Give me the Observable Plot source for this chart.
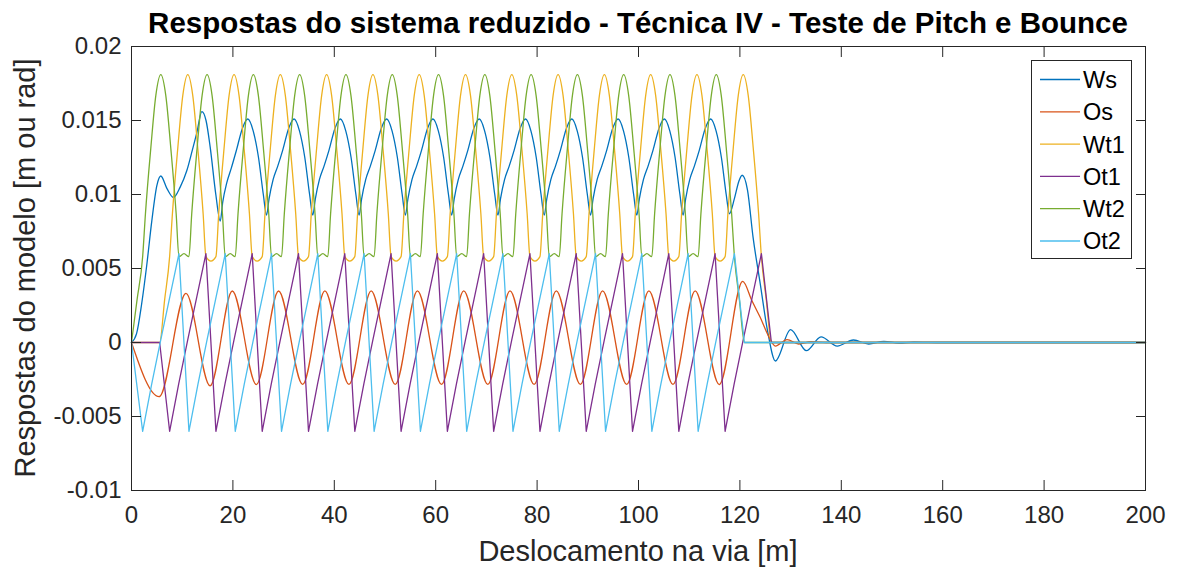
<!DOCTYPE html>
<html>
<head>
<meta charset="utf-8">
<script src="https://cdn.jsdelivr.net/npm/d3@7"></script>
<script src="https://cdn.jsdelivr.net/npm/@observablehq/plot@0.6"></script>
<style>
  html, body { margin: 0; padding: 0; background: #fff; }
  #fig { position: relative; width: 1177px; height: 569px; font-family: "Liberation Sans", Arial, sans-serif; }
  #fig svg.overlay { position: absolute; left: 0; top: 0; pointer-events: none; }
</style>
</head>
<body>
<div id="fig"></div>
<script>
// Series names and MATLAB default colours, in drawing order
const seriesNames = ["Ws", "Os", "Wt1", "Ot1", "Wt2", "Ot2"];
const seriesColors = ["#0072BD", "#D95319", "#EDB120", "#7E2F8E", "#77AC30", "#4DBEEE"];

const xTicks = [0, 20, 40, 60, 80, 100, 120, 140, 160, 180, 200];
const yTicks = [-0.01, -0.005, 0, 0.005, 0.01, 0.015, 0.02];
const yTickLabels = ["-0.01", "-0.005", "0", "0.005", "0.01", "0.015", "0.02"];

// Ws – body bounce [m]
const ws = [
  [0,0],[1.0,0.0006],[2.0,0.0026],[3.0,0.0052],[4.0,0.0082],[5.0,0.0106],[5.78,0.01125],[7.0,0.0104],[8.28,0.0098],
  [9.6,0.0105],[10.9,0.0116],[12.0,0.0130],[12.9,0.0142],[13.87,0.0156],[14.7,0.0150],[15.52,0.0132],[16.63,0.0100],
  [17.50,0.0082],[18.00,0.0095],[18.80,0.0108],[19.70,0.0118],[20.70,0.0130],[21.90,0.0145],[22.94,0.0151],[24.00,0.0143],[25.05,0.0125],[26.00,0.0100],
  [26.63,0.0086],[27.13,0.0097],[27.93,0.0110],[28.83,0.0119],[29.83,0.0130],[31.03,0.0145],[32.07,0.0151],[33.13,0.0143],[34.18,0.0125],[35.13,0.0100],
  [35.76,0.0086],[36.26,0.0097],[37.06,0.0110],[37.96,0.0119],[38.96,0.0130],[40.16,0.0145],[41.20,0.0151],[42.26,0.0143],[43.31,0.0125],[44.26,0.0100],
  [44.89,0.0086],[45.39,0.0097],[46.19,0.0110],[47.09,0.0119],[48.09,0.0130],[49.29,0.0145],[50.33,0.0151],[51.39,0.0143],[52.44,0.0125],[53.39,0.0100],
  [54.02,0.0086],[54.52,0.0097],[55.32,0.0110],[56.22,0.0119],[57.22,0.0130],[58.42,0.0145],[59.46,0.0151],[60.52,0.0143],[61.57,0.0125],[62.52,0.0100],
  [63.15,0.0086],[63.65,0.0097],[64.45,0.0110],[65.35,0.0119],[66.35,0.0130],[67.55,0.0145],[68.59,0.0151],[69.65,0.0143],[70.70,0.0125],[71.65,0.0100],
  [72.28,0.0086],[72.78,0.0097],[73.58,0.0110],[74.48,0.0119],[75.48,0.0130],[76.68,0.0145],[77.72,0.0151],[78.78,0.0143],[79.83,0.0125],[80.78,0.0100],
  [81.41,0.0086],[81.91,0.0097],[82.71,0.0110],[83.61,0.0119],[84.61,0.0130],[85.81,0.0145],[86.85,0.0151],[87.91,0.0143],[88.96,0.0125],[89.91,0.0100],
  [90.54,0.0086],[91.04,0.0097],[91.84,0.0110],[92.74,0.0119],[93.74,0.0130],[94.94,0.0145],[95.98,0.0151],[97.04,0.0143],[98.09,0.0125],[99.04,0.0100],
  [99.67,0.0086],[100.17,0.0097],[100.97,0.0110],[101.87,0.0119],[102.87,0.0130],[104.07,0.0145],[105.11,0.0151],[106.17,0.0143],[107.22,0.0125],[108.17,0.0100],
  [108.80,0.0086],[109.30,0.0097],[110.10,0.0110],[111.00,0.0119],[112.00,0.0130],[113.20,0.0145],[114.24,0.0151],[115.30,0.0143],[116.35,0.0125],[117.30,0.0100],
  [117.93,0.0087],[118.9,0.0097],[119.8,0.0109],[120.45,0.0113],[121.5,0.0103],[122.6,0.0071],[124.0,0.0040],[125.5,0.0007],
  [127.0,-0.00125],[130.0,0.00087],[133.1,-0.00055],[136.0,0.00038],[139.2,-0.00024],[142.4,0.00017],[145.4,-0.0001],
  [148.4,0.00008],[151.4,-0.00004],[154.3,0.00003],[160,0],[200,0]
];

// Os – body pitch [rad]
const os = [
  [0,0],[5.45,-0.00366],[10.75,0.00332],[15.5,-0.00293],[19.88,0.00348],[24.63,-0.00284],[29.01,0.00348],[33.76,-0.00283],
  [38.14,0.00349],[42.89,-0.00283],[47.27,0.00349],[52.02,-0.00283],[56.40,0.00349],[61.15,-0.00283],[65.53,0.00349],
  [70.28,-0.00283],[74.66,0.00349],[79.41,-0.00283],[83.79,0.00349],[88.54,-0.00283],[92.92,0.00349],[97.67,-0.00283],
  [102.05,0.00349],[106.80,-0.00283],[111.18,0.00349],[115.93,-0.00284],[120.55,0.00413],[122.4,0.0028],[124.0,0.0017],
  [125.7,0.0004],[127.0,-0.00024],[129.3,0.0002],[131.6,-0.0001],[134,0.00005],[137,0],[200,0]
];

// Wt1 – front bogie bounce [m]
const wt1 = [
  [0,0],[5.55,0],[6.54,0.0029],
  [7.52,0.0058],[8.07,0.0087],[9.12,0.0131],[10.12,0.0167],[11.10,0.0181],[12.08,0.0167],[13.08,0.0131],[14.13,0.0087],[14.68,0.0058],[15.67,0.0055],
  [16.65,0.0058],[17.20,0.0087],[18.25,0.0131],[19.25,0.0167],[20.23,0.0181],[21.21,0.0167],[22.21,0.0131],[23.26,0.0087],[23.81,0.0058],[24.80,0.0055],
  [25.78,0.0058],[26.33,0.0087],[27.38,0.0131],[28.38,0.0167],[29.36,0.0181],[30.34,0.0167],[31.34,0.0131],[32.39,0.0087],[32.94,0.0058],[33.93,0.0055],
  [34.91,0.0058],[35.46,0.0087],[36.51,0.0131],[37.51,0.0167],[38.49,0.0181],[39.47,0.0167],[40.47,0.0131],[41.52,0.0087],[42.07,0.0058],[43.06,0.0055],
  [44.04,0.0058],[44.59,0.0087],[45.64,0.0131],[46.64,0.0167],[47.62,0.0181],[48.60,0.0167],[49.60,0.0131],[50.65,0.0087],[51.20,0.0058],[52.19,0.0055],
  [53.17,0.0058],[53.72,0.0087],[54.77,0.0131],[55.77,0.0167],[56.75,0.0181],[57.73,0.0167],[58.73,0.0131],[59.78,0.0087],[60.33,0.0058],[61.32,0.0055],
  [62.30,0.0058],[62.85,0.0087],[63.90,0.0131],[64.90,0.0167],[65.88,0.0181],[66.86,0.0167],[67.86,0.0131],[68.91,0.0087],[69.46,0.0058],[70.45,0.0055],
  [71.43,0.0058],[71.98,0.0087],[73.03,0.0131],[74.03,0.0167],[75.01,0.0181],[75.99,0.0167],[76.99,0.0131],[78.04,0.0087],[78.59,0.0058],[79.58,0.0055],
  [80.56,0.0058],[81.11,0.0087],[82.16,0.0131],[83.16,0.0167],[84.14,0.0181],[85.12,0.0167],[86.12,0.0131],[87.17,0.0087],[87.72,0.0058],[88.71,0.0055],
  [89.69,0.0058],[90.24,0.0087],[91.29,0.0131],[92.29,0.0167],[93.27,0.0181],[94.25,0.0167],[95.25,0.0131],[96.30,0.0087],[96.85,0.0058],[97.84,0.0055],
  [98.82,0.0058],[99.37,0.0087],[100.42,0.0131],[101.42,0.0167],[102.40,0.0181],[103.38,0.0167],[104.38,0.0131],[105.43,0.0087],[105.98,0.0058],[106.97,0.0055],
  [107.95,0.0058],[108.50,0.0087],[109.55,0.0131],[110.55,0.0167],[111.53,0.0181],[112.51,0.0167],[113.51,0.0131],[114.56,0.0087],[115.11,0.0058],[116.10,0.0055],
  [117.08,0.0058],[117.63,0.0087],[118.68,0.0131],[119.68,0.0167],[120.66,0.0181],[121.64,0.0167],[122.64,0.0131],[123.69,0.0087],[124.24,0.0058],
  [125.2,0.0029],[126.21,0],[200,0]
];

// Ot1 – front bogie pitch [rad]
const ot1 = [
  [0,0],[5.55,0],
  [7.52,-0.0060],[9.31,-0.0028],[11.10,0.0002],[12.89,0.0031],[14.68,0.0060],
  [16.65,-0.0060],[18.44,-0.0028],[20.23,0.0002],[22.02,0.0031],[23.81,0.0060],
  [25.78,-0.0060],[27.57,-0.0028],[29.36,0.0002],[31.15,0.0031],[32.94,0.0060],
  [34.91,-0.0060],[36.70,-0.0028],[38.49,0.0002],[40.28,0.0031],[42.07,0.0060],
  [44.04,-0.0060],[45.83,-0.0028],[47.62,0.0002],[49.41,0.0031],[51.20,0.0060],
  [53.17,-0.0060],[54.96,-0.0028],[56.75,0.0002],[58.54,0.0031],[60.33,0.0060],
  [62.30,-0.0060],[64.09,-0.0028],[65.88,0.0002],[67.67,0.0031],[69.46,0.0060],
  [71.43,-0.0060],[73.22,-0.0028],[75.01,0.0002],[76.80,0.0031],[78.59,0.0060],
  [80.56,-0.0060],[82.35,-0.0028],[84.14,0.0002],[85.93,0.0031],[87.72,0.0060],
  [89.69,-0.0060],[91.48,-0.0028],[93.27,0.0002],[95.06,0.0031],[96.85,0.0060],
  [98.82,-0.0060],[100.61,-0.0028],[102.40,0.0002],[104.19,0.0031],[105.98,0.0060],
  [107.95,-0.0060],[109.74,-0.0028],[111.53,0.0002],[113.32,0.0031],[115.11,0.0060],
  [117.08,-0.0060],[118.87,-0.0028],[120.66,0.0002],[122.45,0.0031],[124.24,0.0060],
  [126.21,0],[200,0]
];

// Wt2 – rear bogie bounce [m]
const wt2 = [
  [0,0],[1.1,0.0029],
  [2.20,0.0058],[2.75,0.0087],[3.80,0.0131],[4.80,0.0167],[5.78,0.0181],[6.76,0.0167],[7.76,0.0131],[8.81,0.0087],[9.36,0.0058],[10.35,0.0060],
  [11.33,0.0058],[11.88,0.0087],[12.93,0.0131],[13.93,0.0167],[14.91,0.0181],[15.89,0.0167],[16.89,0.0131],[17.94,0.0087],[18.49,0.0058],[19.48,0.0060],
  [20.46,0.0058],[21.01,0.0087],[22.06,0.0131],[23.06,0.0167],[24.04,0.0181],[25.02,0.0167],[26.02,0.0131],[27.07,0.0087],[27.62,0.0058],[28.61,0.0060],
  [29.59,0.0058],[30.14,0.0087],[31.19,0.0131],[32.19,0.0167],[33.17,0.0181],[34.15,0.0167],[35.15,0.0131],[36.20,0.0087],[36.75,0.0058],[37.74,0.0060],
  [38.72,0.0058],[39.27,0.0087],[40.32,0.0131],[41.32,0.0167],[42.30,0.0181],[43.28,0.0167],[44.28,0.0131],[45.33,0.0087],[45.88,0.0058],[46.87,0.0060],
  [47.85,0.0058],[48.40,0.0087],[49.45,0.0131],[50.45,0.0167],[51.43,0.0181],[52.41,0.0167],[53.41,0.0131],[54.46,0.0087],[55.01,0.0058],[56.00,0.0060],
  [56.98,0.0058],[57.53,0.0087],[58.58,0.0131],[59.58,0.0167],[60.56,0.0181],[61.54,0.0167],[62.54,0.0131],[63.59,0.0087],[64.14,0.0058],[65.13,0.0060],
  [66.11,0.0058],[66.66,0.0087],[67.71,0.0131],[68.71,0.0167],[69.69,0.0181],[70.67,0.0167],[71.67,0.0131],[72.72,0.0087],[73.27,0.0058],[74.26,0.0060],
  [75.24,0.0058],[75.79,0.0087],[76.84,0.0131],[77.84,0.0167],[78.82,0.0181],[79.80,0.0167],[80.80,0.0131],[81.85,0.0087],[82.40,0.0058],[83.39,0.0060],
  [84.37,0.0058],[84.92,0.0087],[85.97,0.0131],[86.97,0.0167],[87.95,0.0181],[88.93,0.0167],[89.93,0.0131],[90.98,0.0087],[91.53,0.0058],[92.52,0.0060],
  [93.50,0.0058],[94.05,0.0087],[95.10,0.0131],[96.10,0.0167],[97.08,0.0181],[98.06,0.0167],[99.06,0.0131],[100.11,0.0087],[100.66,0.0058],[101.65,0.0060],
  [102.63,0.0058],[103.18,0.0087],[104.23,0.0131],[105.23,0.0167],[106.21,0.0181],[107.19,0.0167],[108.19,0.0131],[109.24,0.0087],[109.79,0.0058],[110.78,0.0060],
  [111.76,0.0058],[112.31,0.0087],[113.36,0.0131],[114.36,0.0167],[115.34,0.0181],[116.32,0.0167],[117.32,0.0131],[118.37,0.0087],[118.92,0.0058],
  [119.9,0.0029],[120.89,0],[200,0]
];

// Ot2 – rear bogie pitch [rad]
const ot2 = [
  [0,0],
  [2.20,-0.0060],[3.99,-0.0028],[5.78,0.0002],[7.57,0.0031],[9.36,0.0060],
  [11.33,-0.0060],[13.12,-0.0028],[14.91,0.0002],[16.70,0.0031],[18.49,0.0060],
  [20.46,-0.0060],[22.25,-0.0028],[24.04,0.0002],[25.83,0.0031],[27.62,0.0060],
  [29.59,-0.0060],[31.38,-0.0028],[33.17,0.0002],[34.96,0.0031],[36.75,0.0060],
  [38.72,-0.0060],[40.51,-0.0028],[42.30,0.0002],[44.09,0.0031],[45.88,0.0060],
  [47.85,-0.0060],[49.64,-0.0028],[51.43,0.0002],[53.22,0.0031],[55.01,0.0060],
  [56.98,-0.0060],[58.77,-0.0028],[60.56,0.0002],[62.35,0.0031],[64.14,0.0060],
  [66.11,-0.0060],[67.90,-0.0028],[69.69,0.0002],[71.48,0.0031],[73.27,0.0060],
  [75.24,-0.0060],[77.03,-0.0028],[78.82,0.0002],[80.61,0.0031],[82.40,0.0060],
  [84.37,-0.0060],[86.16,-0.0028],[87.95,0.0002],[89.74,0.0031],[91.53,0.0060],
  [93.50,-0.0060],[95.29,-0.0028],[97.08,0.0002],[98.87,0.0031],[100.66,0.0060],
  [102.63,-0.0060],[104.42,-0.0028],[106.21,0.0002],[108.00,0.0031],[109.79,0.0060],
  [111.76,-0.0060],[113.55,-0.0028],[115.34,0.0002],[117.13,0.0031],[118.92,0.0060],
  [120.89,0],[200,0]
];

const seriesData = [ws, os, wt1, ot1, wt2, ot2];
const seriesCurves = ["monotone-x", "monotone-x", "monotone-x", "linear", "monotone-x", "linear"];

const titleText = "Respostas do sistema reduzido - Técnica IV - Teste de Pitch e Bounce";
const xLabel = "Deslocamento na via [m]";
const yLabel = "Respostas do modelo [m ou rad]";

const axisColor = "#262626";
const blank = () => "";

const lineMarks = seriesNames.map((name, i) =>
  Plot.line(seriesData[i].map(([x, y]) => ({x, y, series: name})), {
    x: "x", y: "y", stroke: seriesColors[i], strokeWidth: 1.3, curve: seriesCurves[i]
  })
);

const chart = Plot.plot({
  width: 1177,
  height: 569,
  marginLeft: 131,
  marginRight: 32,
  marginTop: 46,
  marginBottom: 79,
  style: {fontFamily: "'Liberation Sans', Arial, sans-serif", fontSize: "24px", color: axisColor, background: "#fff", overflow: "visible"},
  x: {domain: [0, 200]},
  y: {domain: [-0.01, 0.02]},
  marks: [
    ...lineMarks,
    Plot.frame({stroke: axisColor, strokeWidth: 1}),
    // tick labels
    Plot.axisX(xTicks, {anchor: "bottom", tickSize: 0, tickPadding: 15, label: null, fontSize: 24}),
    Plot.axisY(yTicks, {anchor: "left", tickSize: 0, tickPadding: 10, label: null, fontSize: 24,
      tickFormat: (d) => yTickLabels[yTicks.indexOf(d)]}),
    // inward ticks on all four sides
    Plot.axisX(xTicks, {anchor: "bottom", tickSize: -10, tickFormat: blank, label: null}),
    Plot.axisX(xTicks, {anchor: "top", tickSize: -10, tickFormat: blank, label: null}),
    Plot.axisY(yTicks, {anchor: "left", tickSize: -10, tickFormat: blank, label: null}),
    Plot.axisY(yTicks, {anchor: "right", tickSize: -10, tickFormat: blank, label: null})
  ]
});

const fig = document.getElementById("fig");
fig.appendChild(chart);

// Title, axis titles and legend, layered over the chart
const ns = "http://www.w3.org/2000/svg";
const overlay = document.createElementNS(ns, "svg");
overlay.setAttribute("class", "overlay");
overlay.setAttribute("width", 1177);
overlay.setAttribute("height", 569);
overlay.style.fontFamily = "'Liberation Sans', Arial, sans-serif";
fig.appendChild(overlay);

function addText(parent, str, attrs) {
  const t = document.createElementNS(ns, "text");
  for (const k in attrs) t.setAttribute(k, attrs[k]);
  t.textContent = str;
  parent.appendChild(t);
  return t;
}

addText(overlay, titleText, {x: 638, y: 33, "text-anchor": "middle", "font-weight": "bold", "font-size": 29.5, fill: "#000"});
addText(overlay, xLabel, {x: 638, y: 561, "text-anchor": "middle", "font-size": 29, fill: axisColor});
addText(overlay, yLabel, {transform: "translate(35,268) rotate(-90)", "text-anchor": "middle", "font-size": 29, fill: axisColor});

// legend box
const lg = document.createElementNS(ns, "g");
overlay.appendChild(lg);
const box = document.createElementNS(ns, "rect");
box.setAttribute("x", 1031.5);
box.setAttribute("y", 60.5);
box.setAttribute("width", 100);
box.setAttribute("height", 198);
box.setAttribute("fill", "#fff");
box.setAttribute("stroke", axisColor);
box.setAttribute("stroke-width", 1);
lg.appendChild(box);
seriesNames.forEach((name, i) => {
  const yRow = 79.5 + 32.3 * i;
  const ln = document.createElementNS(ns, "line");
  ln.setAttribute("x1", 1040);
  ln.setAttribute("x2", 1080);
  ln.setAttribute("y1", yRow);
  ln.setAttribute("y2", yRow);
  ln.setAttribute("stroke", seriesColors[i]);
  ln.setAttribute("stroke-width", 1.3);
  lg.appendChild(ln);
  addText(lg, name, {x: 1083, y: yRow + 8.4, "font-size": 23.5, fill: "#000"});
});
</script>
</body>
</html>
